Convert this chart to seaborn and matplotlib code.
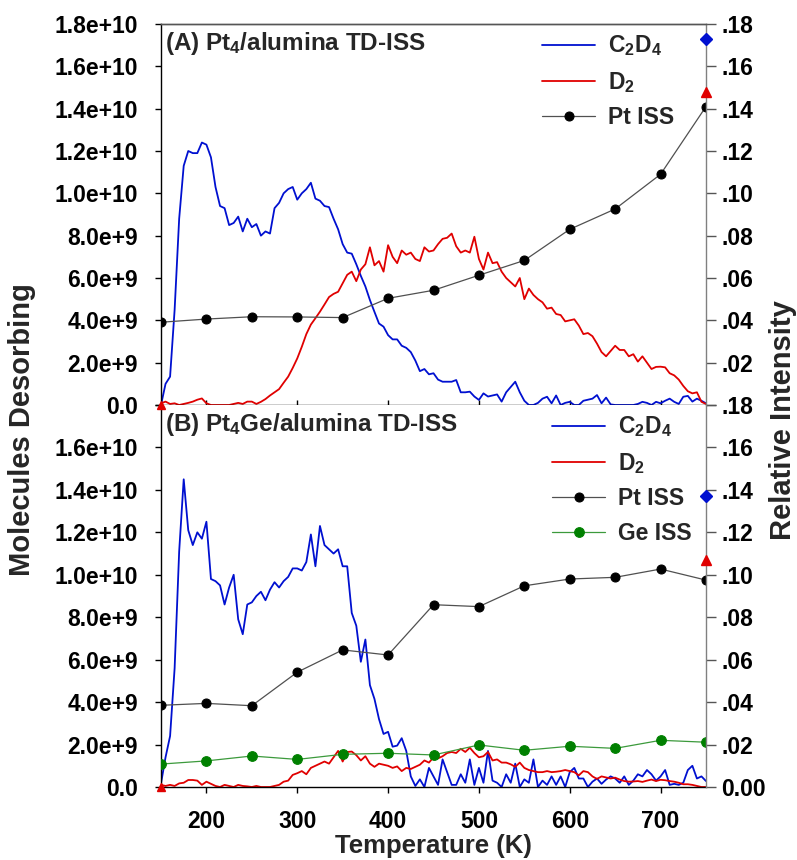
import numpy as np
import matplotlib
matplotlib.use("Agg")
import matplotlib.pyplot as plt
import seaborn as sns

# ---- data -------------------------------------------------------------
# TPD scan grid (K); desorption signals in units of 1e9 molecules
temperature = np.arange(150, 751, 5)

pt4_c2d4 = np.array([
    0, 1.0, 1.34, 4.5, 8.8, 11.3, 12.0, 11.9, 11.9, 12.4,
    12.3, 11.7, 10.3, 9.4, 9.3, 8.5, 8.6, 8.9, 8.2, 8.8,
    8.4, 8.55, 8.0, 8.2, 8.1, 9.3, 9.55, 10.0, 10.2, 10.3,
    9.7, 10.0, 10.2, 10.5, 9.75, 9.65, 9.4, 9.35, 8.8, 8.3,
    7.6, 7.2, 7.15, 6.65, 6.1, 5.6, 4.96, 4.4, 3.85, 3.7,
    3.3, 3.1, 3.1, 2.8, 2.7, 2.5, 2.1, 1.6, 1.7, 1.45,
    1.5, 1.2, 1.1, 1.1, 1.1, 1.18, 0.6, 0.6, 0.63, 0.4,
    0.24, 0.55, 0.4, 0.45, 0.5, 0.16, 0.6, 0.85, 1.1, 0.6,
    0.2, 0, 0, 0.1, 0.3, 0.39, 0.08, 0.45, 0, 0.1,
    0.15, 0, 0, 0.2, 0.25, 0.3, 0.47, 0.08, 0.35, 0.03,
    0, 0, 0, 0, 0, 0.05, 0.15, 0.1, 0, 0.15,
    0.08, 0.2, 0.3, 0.15, 0.05, 0.39, 0.43, 0.16, 0.3, 0.2,
    0.08])

pt4_d2 = np.array([
    0.08, 0.16, 0.05, 0.08, 0, 0.05, 0.1, 0.16, 0.25, 0.31,
    0.08, 0, 0, 0, 0, 0, 0.05, 0.1, 0.05, 0.16,
    0.16, 0.05, 0.15, 0.28, 0.45, 0.6, 0.75, 1.05, 1.34, 1.75,
    2.2, 2.75, 3.35, 3.8, 4.1, 4.41, 4.75, 5.1, 5.25, 5.35,
    5.75, 6.15, 6.3, 5.85, 6.4, 6.65, 7.45, 6.6, 6.8, 6.3,
    7.55, 7.0, 6.7, 7.3, 7.1, 7.2, 6.9, 6.8, 7.45, 7.25,
    7.3, 7.6, 7.85, 7.9, 8.1, 7.5, 7.2, 7.3, 7.2, 7.95,
    6.9, 6.4, 7.2, 6.7, 6.75, 6.3, 6.0, 5.8, 5.6, 6.0,
    5.0, 5.5, 5.2, 5.0, 4.85, 4.55, 4.6, 4.3, 4.25, 3.95,
    4.0, 4.05, 3.75, 3.35, 3.4, 3.25, 2.9, 2.5, 2.3, 2.55,
    2.8, 2.6, 2.6, 2.3, 2.4, 2.05, 2.3, 2.0, 1.7, 1.8,
    1.81, 1.78, 1.5, 1.4, 1.2, 0.9, 0.65, 0.55, 0.6, 0.15,
    0.05])

pt4ge_c2d4 = np.array([
    0.17, 1.4, 2.4, 5.6, 11.1, 14.5, 12.1, 11.4, 12.0, 11.7,
    12.5, 9.8, 9.7, 9.5, 8.6, 9.4, 10.0, 7.9, 7.2, 8.6,
    8.7, 9.0, 9.2, 8.8, 9.3, 9.65, 9.4, 9.7, 9.9, 10.3,
    10.3, 10.2, 10.6, 11.9, 10.4, 12.3, 11.4, 11.2, 11.0, 11.2,
    10.4, 10.4, 8.2, 7.6, 5.9, 6.95, 4.8, 4.15, 3.2, 2.5,
    2.6, 1.9, 1.95, 2.3, 1.7, 0.5, 0.05, 0.36, 0, 0.9,
    0.5, 0.1, 1.3, 0.7, 0.1, 0.1, 0.6, 0.2, 1.3, 0.1,
    0.9, 0.2, 1.7, 0.3, 0.2, 0, 0.6, 0.2, 1.1, 0,
    0.36, 0.2, 1.3, 0, 0.3, 0.1, 0.5, 0.1, 0.5, 0,
    0.7, 0.9, 0.4, 0.4, 0, 0.25, 0.4, 0.15, 0.35, 0.5,
    0.4, 0.2, 0.5, 0.1, 0.3, 0.6, 0.5, 0.8, 0.6, 0.3,
    0.5, 0.8, 0.1, 0.15, 0.1, 0.2, 0.8, 1.0, 0.4, 0.5,
    0.28])

pt4ge_d2 = np.array([
    0.1, 0.05, 0.1, 0.05, 0.17, 0.2, 0.33, 0.33, 0.3, 0.1,
    0.25, 0.15, 0.05, 0, 0.1, 0.05, 0, 0.1, 0.05, 0.03,
    0, 0.05, 0, 0, 0, 0.05, 0.1, 0.25, 0.3, 0.57,
    0.65, 0.75, 0.6, 0.9, 1.0, 1.1, 1.2, 1.1, 1.4, 1.7,
    1.2, 1.65, 1.67, 1.5, 1.25, 1.45, 1.1, 0.95, 1.1, 1.05,
    1.0, 0.9, 0.97, 0.75, 0.9, 0.85, 0.95, 1.05, 1.25, 1.15,
    1.4, 1.35, 1.45, 1.6, 1.65, 1.6, 1.8, 1.65, 1.85, 1.6,
    1.4, 1.45, 1.65, 1.25, 1.3, 1.15, 1.15, 1.07, 0.95, 1.15,
    0.9, 0.8, 0.75, 0.7, 0.7, 0.75, 0.7, 0.72, 0.75, 0.8,
    0.75, 0.7, 0.55, 0.75, 0.7, 0.5, 0.38, 0.5, 0.45, 0.4,
    0.44, 0.35, 0.28, 0.25, 0.26, 0.28, 0.24, 0.3, 0.35, 0.28,
    0.34, 0.32, 0.28, 0.25, 0.2, 0.13, 0.13, 0.1, 0.05, 0,
    0])

# ISS relative intensities (right axis)
iss_temperature = [150, 200, 250, 300, 350, 400, 450, 500, 550, 600, 650, 700, 750]
pt4_pt_iss = [0.0391, 0.0406, 0.0417, 0.0416, 0.0413, 0.0504, 0.0542,
              0.0613, 0.0683, 0.0830, 0.0926, 0.109, 0.141]
pt4ge_pt_iss = [0.0385, 0.0394, 0.0383, 0.0541, 0.0646, 0.0622, 0.0859,
                0.0850, 0.0948, 0.0980, 0.0988, 0.1027, 0.0975]
pt4ge_ge_iss = [0.0108, 0.0123, 0.0146, 0.0130, 0.0154, 0.0159, 0.0151,
                0.0198, 0.0173, 0.0192, 0.0182, 0.0220, 0.0211]

# single reference points drawn at the scan ends
pt4_end_c2d4, pt4_end_d2 = 0.173, 0.148
pt4ge_end_c2d4, pt4ge_end_d2 = 0.137, 0.107

left_ticks = [0, 2e9, 4e9, 6e9, 8e9, 1e10, 1.2e10, 1.4e10, 1.6e10, 1.8e10]
right_ticks = [0, 0.02, 0.04, 0.06, 0.08, 0.10, 0.12, 0.14, 0.16, 0.18]
x_ticks = [200, 300, 400, 500, 600, 700]

# ---- style ------------------------------------------------------------
sns.set_theme(style="ticks")
plt.rcParams["font.family"] = ["Liberation Sans", "DejaVu Sans"]
plt.rcParams["font.weight"] = "bold"
plt.rcParams["mathtext.fontset"] = "custom"
plt.rcParams["mathtext.default"] = "regular"
plt.rcParams["mathtext.rm"] = "Liberation Sans:bold"
plt.rcParams["axes.linewidth"] = 1.0

BLUE = "#0010d0"
RED = "#e00000"
GREEN = "#008000"
TICK_FS = 16.5
LEG_FS = 16.5


def sci_label(v):
    if v == 0:
        return "0.0"
    exp = int(np.floor(np.log10(v)))
    return f"{v / 10 ** exp:.1f}e+{exp}"


fig = plt.figure(figsize=(7.97, 8.6), dpi=100)
W = 797.0
H = 860.0
x0, x1 = 161 / W, 706 / W
y_top, y_mid, y_bot = 1 - 24 / H, 1 - 405 / H, 1 - 787 / H
ax_top = fig.add_axes([x0, y_mid, x1 - x0, y_top - y_mid])
ax_bot = fig.add_axes([x0, y_bot, x1 - x0, y_mid - y_bot])


def draw_panel(ax, c2d4, d2, pt_iss, ge_iss, end_c2d4, end_d2, title,
               is_top, legend_anchor):
    sns.lineplot(x=temperature, y=c2d4 * 1e9, ax=ax, color=BLUE, lw=1.3,
                 estimator=None, label="C$_2$D$_4$")
    sns.lineplot(x=temperature, y=d2 * 1e9, ax=ax, color=RED, lw=1.3,
                 estimator=None, label="D$_2$")
    ax.set_xlim(150, 750)
    ax.set_ylim(0, 1.8e10)
    ax.set_yticks(left_ticks)
    labels = [sci_label(v) for v in left_ticks]
    if not is_top:
        labels[-1] = ""
    ax.set_yticklabels(labels)
    ax.set_xticks(x_ticks)
    ax.set_ylabel("")
    ax.set_xlabel("")
    ax.tick_params(axis="y", direction="out", length=4.5, width=1,
                   colors="black", labelsize=TICK_FS, pad=12)
    if is_top:
        ax.tick_params(axis="x", direction="inout", length=7, width=1,
                       colors="black", labelbottom=False)
    else:
        ax.tick_params(axis="x", direction="out", length=4.5, width=1,
                       colors="black", labelsize=TICK_FS, pad=12)
    for lab in ax.get_xticklabels() + ax.get_yticklabels():
        lab.set_fontweight("bold")
    ax.spines["left"].set_color("black")
    ax.spines["bottom"].set_color("black")
    ax.spines["right"].set_visible(False)
    ax.spines["top"].set_color("#555555")
    ax.spines["top"].set_visible(is_top)

    axr = ax.twinx()
    sns.lineplot(x=iss_temperature, y=pt_iss, ax=axr, color="#505050",
                 lw=0.9, marker="o", markersize=6.5, markerfacecolor="black",
                 markeredgecolor="black", label="Pt ISS")
    if ge_iss is not None:
        sns.lineplot(x=iss_temperature, y=ge_iss, ax=axr, color="#3c9a3c",
                     lw=0.9, marker="o", markersize=7, markerfacecolor=GREEN,
                     markeredgecolor=GREEN, label="Ge ISS")
    axr.plot([750], [end_c2d4], ls="none", marker="D", ms=6.5, color=BLUE,
             clip_on=False, zorder=5)
    axr.plot([750], [end_d2], ls="none", marker="^", ms=7, color=RED,
             clip_on=False, zorder=5)
    axr.plot([150], [0], ls="none", marker="^", ms=6, color=RED,
             clip_on=False, zorder=5)
    axr.set_ylim(0, 0.18)
    axr.set_yticks(right_ticks)
    rlabels = [f"{v:.2f}"[1:] for v in right_ticks]
    rlabels[0] = "" if is_top else "0.00"
    axr.set_yticklabels(rlabels)
    axr.set_ylabel("")
    axr.tick_params(axis="y", direction="out", length=7, width=1,
                    colors="#555555", labelcolor="black", labelsize=TICK_FS,
                    pad=4)
    for lab in axr.get_yticklabels():
        lab.set_fontweight("bold")
    axr.spines["right"].set_color("#808080")
    axr.spines["left"].set_visible(False)
    axr.spines["bottom"].set_visible(False)
    axr.spines["top"].set_visible(is_top)
    axr.spines["top"].set_color("#555555")

    h1, l1 = ax.get_legend_handles_labels()
    h2, l2 = axr.get_legend_handles_labels()
    if ax.get_legend() is not None:
        ax.get_legend().remove()
    axr.legend(h1 + h2, l1 + l2, loc="upper left",
               bbox_to_anchor=legend_anchor, frameon=False,
               borderaxespad=0, borderpad=0, handlelength=2.3,
               handletextpad=0.55, labelspacing=0.5,
               prop={"size": LEG_FS, "weight": "bold"})

    ax.text(0.007, 0.985, title, transform=ax.transAxes, ha="left",
            va="top", fontsize=17.5, fontweight="bold")
    return axr


draw_panel(ax_top, pt4_c2d4, pt4_d2, pt4_pt_iss, None, pt4_end_c2d4,
           pt4_end_d2, "(A) Pt$_4$/alumina TD-ISS", True, (0.70, 0.975))
draw_panel(ax_bot, pt4ge_c2d4, pt4ge_d2, pt4ge_pt_iss, pt4ge_ge_iss,
           pt4ge_end_c2d4, pt4ge_end_d2, "(B) Pt$_4$Ge/alumina TD-ISS",
           False, (0.718, 0.975))

ax_bot.set_xlabel("Temperature (K)", fontsize=18.5, fontweight="bold",
                  labelpad=1)
fig.text(0.027, 1 - 430 / H, "Molecules Desorbing", rotation=90,
         ha="center", va="center", fontsize=21, fontweight="bold")
fig.text(0.982, 1 - 420 / H, "Relative Intensity", rotation=90,
         ha="center", va="center", fontsize=21, fontweight="bold")

fig.savefig("out.png", dpi=100)
